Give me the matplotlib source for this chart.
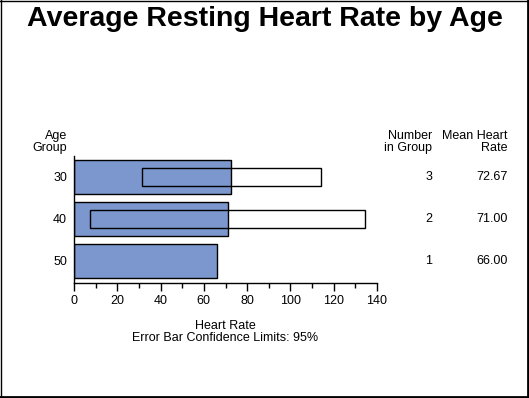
import matplotlib
matplotlib.use("Agg")
from matplotlib import pyplot as plt
from matplotlib import transforms
import numpy as np

plt.rcParams['font.family'] = ['Liberation Sans', 'DejaVu Sans']

ages = ["30", "40", "50"]
counts = [3, 2, 1]
means = [72.67, 71.00, 66.00]
ci_low = [31.2, 7.5, None]
ci_high = [114.1, 134.5, None]
xticks = [0, 20, 40, 60, 80, 100, 120, 140]

fs = 9
fig = plt.figure(figsize=(5.29, 3.98), dpi=100)
ax = fig.add_axes([0.1399, 0.2897, 0.5728, 0.3183])

pos = np.arange(len(ages))
ax.barh(pos, means, height=0.815, color="#7b97cd", edgecolor="black", linewidth=1, zorder=2)
for p, lo, hi in zip(pos, ci_low, ci_high):
    if lo is None:
        continue
    ax.bar(lo, 0.43, width=hi - lo, bottom=p - 0.215, align="edge",
           fill=False, edgecolor="black", linewidth=1, zorder=3)

ax.set_xlim(0, 140)
ax.set_ylim(2.53, -0.5)
ax.set_xticks(xticks)
ax.set_xticks(np.arange(10, 140, 20), minor=True)
ax.set_yticks(pos)
ax.set_yticklabels(ages)
ax.tick_params(axis="x", which="major", length=6, width=1, labelsize=fs, pad=3)
ax.tick_params(axis="x", which="minor", length=3.5, width=1)
ax.tick_params(axis="y", length=0, labelsize=fs, pad=5)
for s in ["top", "right"]:
    ax.spines[s].set_visible(False)
for s in ["left", "bottom"]:
    ax.spines[s].set_linewidth(1)

ax.set_xlabel("Heart Rate\nError Bar Confidence Limits: 95%", fontsize=fs,
              linespacing=1.0, labelpad=9)

# column headers and table values
fig.text(67 / 529, 1 - 154 / 398, "Age\nGroup", ha="right", va="bottom",
         fontsize=fs, linespacing=1.0)
fig.text(432 / 529, 1 - 154 / 398, "Number\nin Group", ha="right", va="bottom",
         fontsize=fs, linespacing=1.0)
fig.text(508 / 529, 1 - 154 / 398, "Mean Heart\nRate", ha="right", va="bottom",
         fontsize=fs, linespacing=1.0)
tr = transforms.blended_transform_factory(fig.transFigure, ax.transData)
for p, n, m in zip(pos, counts, means):
    ax.text(432 / 529, p, str(n), transform=tr, ha="right", va="center", fontsize=fs)
    ax.text(508 / 529, p, "%.2f" % m, transform=tr, ha="right", va="center", fontsize=fs)

fig.text(0.5, 1 - 19 / 398, "Average Resting Heart Rate by Age", ha="center", va="center",
         fontsize=20.5, fontweight="bold")

# frame around the whole picture
fig.add_artist(plt.Line2D([0.5 / 529, 0.5 / 529], [0, 1], color="black", lw=1))
fig.add_artist(plt.Line2D([0, 1], [1 - 0.5 / 398, 1 - 0.5 / 398], color="black", lw=1))
fig.add_artist(plt.Line2D([1 - 1.5 / 529, 1 - 1.5 / 529], [0, 1], color="black", lw=2))
fig.add_artist(plt.Line2D([0, 1], [1.5 / 398, 1.5 / 398], color="black", lw=2))

fig.savefig("out.png", dpi=100)
